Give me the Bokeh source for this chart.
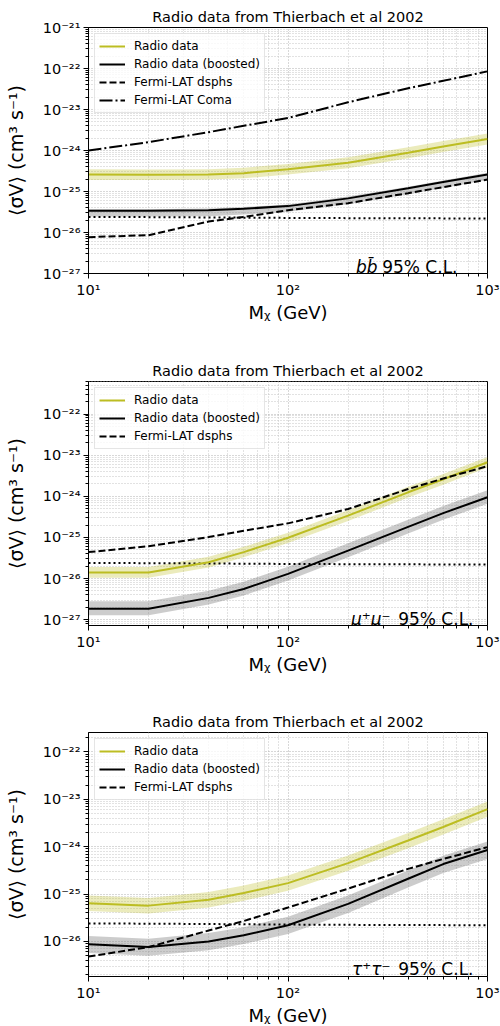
from bokeh.plotting import figure
from bokeh.models import Range1d, FixedTicker, CustomJSTickFormatter, Label
from bokeh.layouts import column
from bokeh.embed import file_html
from bokeh.resources import INLINE

# ---------------- data ----------------
mass = [10, 20, 40, 60, 100, 200, 400, 600, 1000]          # GeV
thermal = [2.4e-26, 2.37e-26, 2.33e-26, 2.3e-26, 2.27e-26, 2.24e-26, 2.22e-26, 2.21e-26, 2.2e-26]

# b bbar
bb_radio    = [2.6e-25, 2.55e-25, 2.6e-25, 2.8e-25, 3.5e-25, 5.0e-25, 8.8e-25, 1.25e-24, 1.9e-24]
bb_radio_lo = [1.9e-25, 1.9e-25, 1.95e-25, 2.1e-25, 2.6e-25, 3.7e-25, 6.5e-25, 9.2e-25, 1.4e-24]
bb_radio_hi = [3.5e-25, 3.45e-25, 3.5e-25, 3.8e-25, 4.7e-25, 6.8e-25, 1.2e-24, 1.7e-24, 2.6e-24]
bb_boost    = [3.4e-26, 3.4e-26, 3.5e-26, 3.8e-26, 4.4e-26, 6.8e-26, 1.2e-25, 1.7e-25, 2.6e-25]
bb_boost_lo = [2.45e-26, 2.45e-26, 2.5e-26, 2.75e-26, 3.2e-26, 4.9e-26, 8.6e-26, 1.22e-25, 1.9e-25]
bb_boost_hi = [3.7e-26, 3.7e-26, 3.85e-26, 4.2e-26, 4.8e-26, 7.5e-26, 1.3e-25, 1.85e-25, 2.85e-25]
bb_dsph     = [7.7e-27, 8.6e-27, 1.85e-26, 2.4e-26, 3.5e-26, 5.2e-26, 9.1e-26, 1.28e-25, 1.95e-25]
bb_coma     = [1.0e-24, 1.6e-24, 2.8e-24, 4.0e-24, 6.2e-24, 1.5e-23, 3.3e-23, 5.0e-23, 8.5e-23]

# mu+ mu-
mu_radio    = [1.4e-26, 1.4e-26, 2.5e-26, 4.4e-26, 9.8e-26, 3.4e-25, 1.25e-24, 2.6e-24, 6.7e-24]
mu_radio_lo = [1.05e-26, 1.05e-26, 1.85e-26, 3.3e-26, 7.3e-26, 2.5e-25, 9.3e-25, 1.9e-24, 5.0e-24]
mu_radio_hi = [1.9e-26, 1.9e-26, 3.4e-26, 5.9e-26, 1.3e-25, 4.6e-25, 1.7e-24, 3.5e-24, 9.0e-24]
mu_boost    = [1.85e-27, 1.85e-27, 3.4e-27, 5.6e-27, 1.3e-26, 4.8e-26, 1.8e-25, 3.9e-25, 9.5e-25]
mu_boost_lo = [1.28e-27, 1.28e-27, 2.35e-27, 3.9e-27, 9.0e-27, 3.3e-26, 1.25e-25, 2.7e-25, 6.6e-25]
mu_boost_hi = [2.8e-27, 2.8e-27, 5.1e-27, 8.4e-27, 1.95e-26, 7.2e-26, 2.7e-25, 5.8e-25, 1.4e-24]
mu_dsph     = [4.4e-26, 6.1e-26, 1.02e-25, 1.45e-25, 2.2e-25, 4.9e-25, 1.5e-24, 2.7e-24, 5.4e-24]

# tau+ tau-
tau_radio    = [6.4e-26, 5.7e-26, 7.6e-26, 1.05e-25, 1.7e-25, 4.5e-25, 1.35e-24, 2.6e-24, 6.2e-24]
tau_radio_lo = [4.4e-26, 3.9e-26, 5.2e-26, 7.2e-26, 1.17e-25, 3.1e-25, 9.3e-25, 1.8e-24, 4.3e-24]
tau_radio_hi = [9.3e-26, 8.3e-26, 1.1e-25, 1.52e-25, 2.45e-25, 6.5e-25, 1.95e-24, 3.8e-24, 9.0e-24]
tau_boost    = [8.7e-27, 7.6e-27, 1.0e-26, 1.35e-26, 2.2e-26, 6.2e-26, 2.1e-25, 4.3e-25, 8.5e-25]
tau_boost_lo = [5.7e-27, 5.0e-27, 6.5e-27, 8.8e-27, 1.43e-26, 4.0e-26, 1.37e-25, 2.8e-25, 5.5e-25]
tau_boost_hi = [1.3e-26, 1.14e-26, 1.5e-26, 2.0e-26, 3.3e-26, 9.3e-26, 3.15e-25, 6.4e-25, 1.28e-24]
tau_dsph     = [4.8e-27, 7.6e-27, 1.7e-26, 2.7e-26, 5.2e-26, 1.3e-25, 3.4e-25, 5.5e-25, 9.8e-25]

x_major = [10, 100, 1000]
x_minor = [20, 30, 40, 50, 60, 70, 80, 90, 200, 300, 400, 500, 600, 700, 800, 900]

title_text = "Radio data from Thierbach et al 2002"
xlabel = "Mᵪ (GeV)"
ylabel = "⟨σV⟩ (cm³ s⁻¹)"
labels = ["Radio data", "Radio data (boosted)", "Fermi-LAT dsphs", "Fermi-LAT Coma"]

FONT = "DejaVu Sans"
OLIVE = "#bcbd22"

sup_fmt = CustomJSTickFormatter(code="""
const s = {'-':'\u207b','0':'\u2070','1':'\u00b9','2':'\u00b2','3':'\u00b3','4':'\u2074',
           '5':'\u2075','6':'\u2076','7':'\u2077','8':'\u2078','9':'\u2079'};
const e = Math.round(Math.log10(tick));
return '10' + String(e).split('').map(c => s[c]).join('');
""")


def y_ticks(lo_exp, hi_exp):
    majors, minors = [], []
    for e in range(int(lo_exp) - 1, int(hi_exp) + 1):
        base = 10.0 ** e
        if lo_exp - 1e-9 <= e <= hi_exp + 1e-9:
            majors.append(base)
        for k in range(2, 10):
            v = k * base
            if 10 ** lo_exp <= v <= 10 ** hi_exp:
                minors.append(v)
    return majors, minors


def panel(radio, rlo, rhi, boost, blo, bhi, dsph, coma, lo_exp, hi_exp,
          ital, ital_x, cl_x, txt_y, top, fh, bottom):
    p = figure(x_axis_type="log", y_axis_type="log",
               x_range=Range1d(10, 1000), y_range=Range1d(10 ** lo_exp, 10 ** hi_exp),
               frame_width=399, frame_height=fh,
               min_border_left=88, min_border_right=13,
               min_border_top=top, min_border_bottom=bottom,
               output_backend="svg", toolbar_location=None, title=title_text)
    p.title.text_font = FONT
    p.title.text_font_size = "14.5px"
    p.title.text_font_style = "normal"
    p.title.text_color = "black"
    p.title.align = "center"
    p.title.standoff = 5
    p.outline_line_color = "black"
    p.outline_line_alpha = 1
    p.outline_line_width = 1

    maj, mnr = y_ticks(lo_exp, hi_exp)
    p.yaxis.ticker = FixedTicker(ticks=maj, minor_ticks=mnr)
    p.xaxis.ticker = FixedTicker(ticks=x_major, minor_ticks=x_minor)
    for ax in (p.xaxis[0], p.yaxis[0]):
        ax.formatter = sup_fmt
        ax.major_label_text_font = FONT
        ax.major_label_text_font_size = "14.5px"
        ax.major_label_text_color = "black"
        ax.axis_label_text_font = FONT
        ax.axis_label_text_font_style = "normal"
        ax.axis_label_text_color = "black"
        ax.axis_line_color = "black"
        ax.major_tick_out = 5
        ax.major_tick_in = 0
        ax.minor_tick_out = 3
        ax.minor_tick_in = 0
        ax.major_tick_line_color = "black"
        ax.minor_tick_line_color = "black"
        ax.major_label_standoff = 3
    p.xaxis.axis_label = xlabel
    p.yaxis.axis_label = ylabel
    p.xaxis.axis_label_text_font_size = "18px"
    p.yaxis.axis_label_text_font_size = "19px"
    p.xaxis.axis_label_standoff = 1
    p.yaxis.axis_label_standoff = 13

    for g in (p.xgrid[0], p.ygrid[0]):
        g.grid_line_color = "#b0b0b0"
        g.grid_line_width = 1
        g.grid_line_dash = "1 2"
        g.minor_grid_line_color = "#c4c4c4"
        g.minor_grid_line_width = 1
        g.minor_grid_line_dash = "1 2"

    p.varea(x=mass, y1=rlo, y2=rhi, fill_color=OLIVE, fill_alpha=0.3)
    p.varea(x=mass, y1=blo, y2=bhi, fill_color="gray", fill_alpha=0.4)
    p.line(mass, thermal, line_color="black", line_width=2, line_dash="2 3")
    p.line(mass, radio, line_color=OLIVE, line_width=2, legend_label=labels[0])
    p.line(mass, boost, line_color="black", line_width=2, legend_label=labels[1])
    p.line(mass, dsph, line_color="black", line_width=2, line_dash="7 3", legend_label=labels[2])
    if coma is not None:
        p.line(mass, coma, line_color="black", line_width=2, line_dash="13 3 2 3",
               legend_label=labels[3])

    lg = p.legend[0]
    lg.location = "top_left"
    lg.margin = 6
    lg.padding = 4
    lg.spacing = 2
    lg.glyph_width = 26
    lg.glyph_height = 16
    lg.label_height = 16
    lg.label_standoff = 9
    lg.label_text_font = FONT
    lg.label_text_font_size = "12px"
    lg.label_text_color = "black"
    lg.border_line_color = "#cccccc"
    lg.border_line_width = 1
    lg.background_fill_alpha = 0.8

    p.add_layout(Label(x=ital_x, y=txt_y, x_units="screen", y_units="screen", text=ital,
                       text_font=FONT, text_font_size="17px", text_font_style="italic",
                       text_align="right", text_baseline="alphabetic", text_color="black"))
    p.add_layout(Label(x=cl_x, y=txt_y, x_units="screen", y_units="screen", text="95% C.L.",
                       text_font=FONT, text_font_size="17px", text_color="black",
                       text_align="right", text_baseline="alphabetic"))
    return p


p1 = panel(bb_radio, bb_radio_lo, bb_radio_hi, bb_boost, bb_boost_lo, bb_boost_hi, bb_dsph, bb_coma,
           -27, -21, "bb̄", 289, 369, 6.5, 27, 246, 69)
p2 = panel(mu_radio, mu_radio_lo, mu_radio_hi, mu_boost, mu_boost_lo, mu_boost_hi, mu_dsph, None,
           -27.14, -21.21, "μ⁺μ⁻", 302, 385, 6.7, 39, 244, 55)
p3 = panel(tau_radio, tau_radio_lo, tau_radio_hi, tau_boost, tau_boost_lo, tau_boost_hi, tau_dsph, None,
           -26.74, -21.59, "τ⁺τ⁻", 302, 385, 7.7, 52, 244, 50)

layout = column(p1, p2, p3)
open("out.html", "w").write(file_html(layout, INLINE))
